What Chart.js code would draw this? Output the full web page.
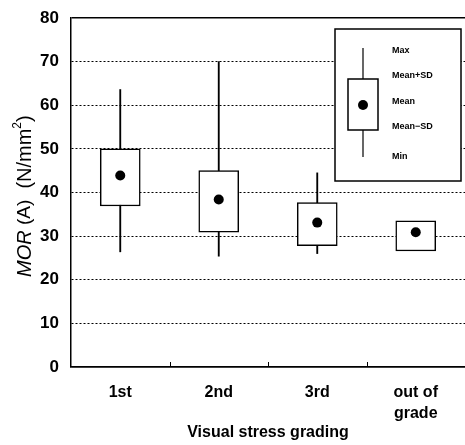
<!DOCTYPE html>
<html>
<head>
<meta charset="utf-8">
<script src="https://cdn.jsdelivr.net/npm/chart.js@4/dist/chart.umd.min.js"></script>
<style>
  html, body { margin: 0; padding: 0; background: #fff; }
  #wrap { width: 465px; height: 445px; }
</style>
</head>
<body>
<div id="wrap"><canvas id="c" width="465" height="445"></canvas></div>
<script>
// ---- data ----
const categories = ['1st', '2nd', '3rd', ['out of', 'grade']];
const maxValues    = [63.6, 70.0, 44.5, null];
const minValues    = [26.4, 25.4, 26.0, null];
const meanPlusSD   = [50.0, 45.0, 37.7, 33.5];
const meanMinusSD  = [36.9, 30.9, 27.8, 26.6];
const meanValues   = [43.9, 38.4, 33.1, 30.9];
const yTicks = { min: 0, max: 80, step: 10 };
const legendLabels = ['Max', 'Mean+SD', 'Mean', 'Mean\u2212SD', 'Min'];
const xTitle = 'Visual stress grading';

const FONT = "'Liberation Sans', Arial, sans-serif";

const whiskerData = maxValues.map((mx, i) => mx == null ? null : [minValues[i], mx]);
const boxData = meanPlusSD.map((hi, i) => [meanMinusSD[i], hi]);

// category boundary ticks (pointing up into the plot)
const boundaryTicks = {
  id: 'boundaryTicks',
  afterDraw(chart) {
    const x = chart.scales.x, ctx = chart.ctx, b = chart.chartArea.bottom;
    ctx.save();
    ctx.strokeStyle = '#000';
    ctx.lineWidth = 1;
    for (let i = 0; i < categories.length - 1; i++) {
      const px = Math.round((x.getPixelForValue(i) + x.getPixelForValue(i + 1)) / 2) + 0.5;
      ctx.beginPath();
      ctx.moveTo(px, b);
      ctx.lineTo(px, b - 5);
      ctx.stroke();
    }
    ctx.restore();
  }
};

// explanatory key box in upper right
const keyBox = {
  id: 'keyBox',
  afterDatasetsDraw(chart) {
    const ctx = chart.ctx, a = chart.chartArea;
    const L = a.right - 130, T = a.top + 11, W = 126, H = 152;
    ctx.save();
    ctx.fillStyle = '#fff';
    ctx.strokeStyle = '#000';
    ctx.lineWidth = 1.5;
    ctx.fillRect(L, T, W, H);
    ctx.strokeRect(L, T, W, H);
    const cx = L + 28;
    ctx.lineWidth = 1.2;
    ctx.beginPath();
    ctx.moveTo(cx, T + 19);
    ctx.lineTo(cx, T + 128);
    ctx.stroke();
    ctx.lineWidth = 1.5;
    ctx.fillRect(cx - 15, T + 50, 30, 51);
    ctx.strokeRect(cx - 15, T + 50, 30, 51);
    ctx.fillStyle = '#000';
    ctx.beginPath();
    ctx.arc(cx, T + 76, 5, 0, Math.PI * 2);
    ctx.fill();
    ctx.font = 'bold 9px ' + FONT;
    ctx.textBaseline = 'middle';
    ctx.textAlign = 'left';
    const ys = [22, 47, 73, 98, 128];
    legendLabels.forEach((t, i) => ctx.fillText(t, L + 57, T + ys[i]));
    ctx.restore();
  }
};

// y axis title with italic MOR and superscript 2
const yTitle = {
  id: 'yTitle',
  afterDraw(chart) {
    const ctx = chart.ctx;
    ctx.save();
    ctx.translate(25, 277);
    ctx.rotate(-Math.PI / 2);
    ctx.fillStyle = '#000';
    ctx.textBaseline = 'middle';
    ctx.textAlign = 'left';
    let x = 0;
    const seg = (text, font, dy) => {
      ctx.font = font;
      ctx.fillText(text, x, dy || 0);
      x += ctx.measureText(text).width;
    };
    seg('MOR', 'italic 20px ' + FONT);
    seg(' (A)', '19px ' + FONT);
    seg('  (N/mm', '20px ' + FONT);
    seg('2', '12px ' + FONT, -7);
    seg(')', '20px ' + FONT);
    ctx.restore();
  }
};

new Chart(document.getElementById('c'), {
  type: 'bar',
  data: {
    labels: categories,
    datasets: [
      {
        type: 'line',
        label: 'Mean',
        data: meanValues,
        showLine: false,
        pointRadius: 5,
        pointHoverRadius: 5,
        pointBackgroundColor: '#000',
        pointBorderWidth: 0,
        order: 0
      },
      {
        label: 'Mean±SD',
        data: boxData,
        backgroundColor: '#fff',
        borderColor: '#000',
        borderWidth: 1.5,
        borderSkipped: false,
        barThickness: 40,
        grouped: false,
        order: 1
      },
      {
        label: 'Range',
        data: whiskerData,
        backgroundColor: '#000',
        borderWidth: 0,
        barThickness: 1.2,
        grouped: false,
        order: 2
      }
    ]
  },
  options: {
    responsive: false,
    animation: false,
    events: [],
    layout: { autoPadding: false, padding: { top: 18, right: 0, bottom: 0, left: 0 } },
    plugins: { legend: { display: false }, tooltip: { enabled: false } },
    scales: {
      x: {
        offset: true,
        grid: { display: false, drawTicks: false },
        border: { display: true, color: '#000', width: 1.5 },
        ticks: {
          color: '#000',
          padding: 15,
          font: { family: FONT, size: 16, weight: 'bold', lineHeight: 1.3 },
          maxRotation: 0
        },
        title: {
          display: true,
          text: xTitle,
          color: '#000',
          font: { family: FONT, size: 16, weight: 'bold', lineHeight: 1.2 },
          padding: { top: 0, bottom: 3 }
        },
        afterFit(s) { s.height = 78; s.paddingLeft = 0; s.paddingRight = 0; }
      },
      y: {
        min: yTicks.min,
        max: yTicks.max,
        ticks: {
          stepSize: yTicks.step,
          color: '#000',
          padding: 12,
          font: { family: FONT, size: 17, weight: 'bold' }
        },
        grid: {
          drawTicks: false,
          color: '#000',
          lineWidth: (c) => (c.tick && (c.tick.value === 80 || c.tick.value === 0)) ? 1.5 : 1
        },
        border: {
          display: true,
          color: '#000',
          width: 1.5,
          dash: (c) => (c.tick && (c.tick.value === 80 || c.tick.value === 0)) ? [] : [2, 2]
        },
        afterFit(s) { s.width = 71; s.paddingTop = 0; s.paddingBottom = 0; }
      }
    }
  },
  plugins: [boundaryTicks, keyBox, yTitle]
});
</script>
</body>
</html>
